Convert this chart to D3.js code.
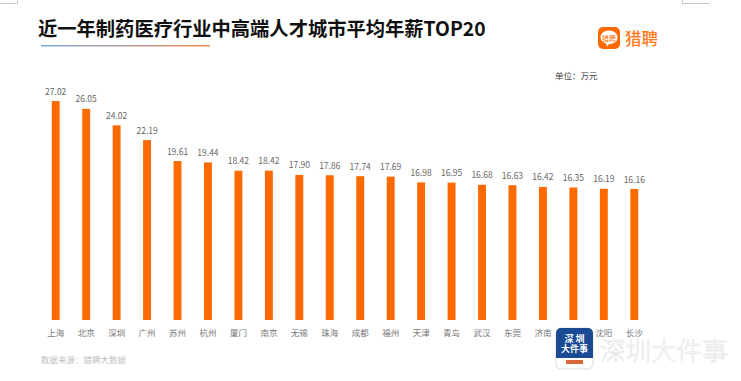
<!DOCTYPE html>
<html>
<head>
<meta charset="utf-8">
<script src="https://cdn.jsdelivr.net/npm/d3@7"></script>
<style>
  html, body { margin: 0; padding: 0; background: #fff; }
  text { font-family: "Noto Sans CJK SC", "Noto Sans", sans-serif; }
</style>
</head>
<body>
<div id="chart"></div>
<script>
// values (wan yuan); the label under the logo is hidden in the source
const cities = ["上海", "北京", "深圳", "广州", "苏州", "杭州", "厦门", "南京", "无锡", "珠海",
  "成都", "福州", "天津", "青岛", "武汉", "东莞", "济南", "合肥", "沈阳", "长沙"];
const salaries = [27.02, 26.05, 24.02, 22.19, 19.61, 19.44, 18.42, 18.42, 17.90, 17.86,
  17.74, 17.69, 16.98, 16.95, 16.68, 16.63, 16.42, 16.35, 16.19, 16.16];
const salaryLabels = ["27.02", "26.05", "24.02", "22.19", "19.61", "19.44", "18.42", "18.42", "17.90", "17.86",
  "17.74", "17.69", "16.98", "16.95", "16.68", "16.63", "16.42", "16.35", "16.19", "16.16"];

const width = 741, height = 381;
const orange = "#ff6a00";

const svg = d3.select("#chart").append("svg")
  .attr("width", width)
  .attr("height", height)
  .style("display", "block");

// page corner marks of the screenshot
svg.append("path").attr("d", "M0.5,3.5H17.5V0").attr("fill", "none").attr("stroke", "#c8c8c8");
svg.append("path").attr("d", "M682.5,0V3.5H710").attr("fill", "none").attr("stroke", "#c8c8c8");

// title and underline
svg.append("text")
  .attr("x", 38).attr("y", 36)
  .attr("font-size", 19.3).attr("font-weight", 700).attr("fill", "#111")
  .text("近一年制药医疗行业中高端人才城市平均年薪TOP20");

const grad = svg.append("defs").append("linearGradient").attr("id", "rule");
grad.append("stop").attr("offset", "0%").attr("stop-color", "#7aa9e0");
grad.append("stop").attr("offset", "100%").attr("stop-color", "#f58a4f");
svg.append("rect")
  .attr("x", 41).attr("y", 45).attr("width", 169).attr("height", 1.5)
  .attr("fill", "url(#rule)");

// liepin logo
const logo = svg.append("g").attr("transform", "translate(598,27)");
logo.append("rect").attr("width", 22).attr("height", 22).attr("rx", 5).attr("fill", orange);
logo.append("path")
  .attr("d", "M11,3.5C16,3.5 19.5,6.5 19.5,10.5C19.5,14.5 16,17 11,17L9,19.5L8,16.5C4.5,15.5 2.5,13.5 2.5,10.5C2.5,6.5 6,3.5 11,3.5Z")
  .attr("fill", "#fff");
logo.append("text")
  .attr("x", 11).attr("y", 13.5).attr("text-anchor", "middle")
  .attr("font-size", 7).attr("fill", orange).text("猎聘");
svg.append("text")
  .attr("x", 625).attr("y", 45)
  .attr("font-size", 16.5).attr("font-weight", 500).attr("fill", "#ff7a1a")
  .text("猎聘");

svg.append("text")
  .attr("x", 555).attr("y", 78.5)
  .attr("font-size", 8.5).attr("fill", "#444")
  .text("单位：万元");

// scales
const x = d3.scaleBand()
  .domain(cities)
  .range([40.5, 649.5])
  .paddingInner(0.74)
  .paddingOuter(0.37);
const y = d3.scaleLinear()
  .domain([0, 27.02])
  .range([320, 101]);

svg.selectAll(".bar")
  .data(cities)
  .enter()
  .append("rect")
    .attr("class", "bar")
    .attr("x", d => x(d))
    .attr("y", (d, i) => y(salaries[i]))
    .attr("width", x.bandwidth())
    .attr("height", (d, i) => y(0) - y(salaries[i]))
    .attr("fill", orange);

svg.selectAll(".value")
  .data(cities)
  .enter()
  .append("text")
    .attr("class", "value")
    .attr("x", d => x(d) + x.bandwidth() / 2)
    .attr("y", (d, i) => y(salaries[i]) - 6.5)
    .attr("text-anchor", "middle")
    .attr("font-size", 8.5)
    .attr("fill", "#666")
    .text((d, i) => salaryLabels[i]);

const axis = svg.append("g")
  .attr("transform", "translate(0,320)")
  .call(d3.axisBottom(x).tickSize(0).tickPadding(10));
axis.select(".domain").remove();
axis.selectAll("text")
  .attr("font-size", 8.5)
  .attr("fill", "#777")
  .style("font-family", '"Noto Sans CJK SC", sans-serif');

svg.append("text")
  .attr("x", 41).attr("y", 363)
  .attr("font-size", 8.5).attr("fill", "#c0c0c0")
  .text("数据来源：猎聘大数据");

// news watermark over the bottom right
const mark = svg.append("g").attr("transform", "translate(556,328)");
mark.append("rect").attr("width", 37).attr("height", 41).attr("rx", 5)
  .attr("fill", "#fff").attr("stroke", "#ddd");
mark.append("path").attr("d", "M0,5a5,5 0 0 1 5,-5H32a5,5 0 0 1 5,5V30H0Z").attr("fill", "#1a4a94");
mark.append("text").attr("x", 19.5).attr("y", 13.5).attr("text-anchor", "middle")
  .attr("font-size", 9).attr("font-weight", 700).attr("letter-spacing", 2).attr("fill", "#fff").text("深圳");
mark.append("text").attr("x", 18.5).attr("y", 24).attr("text-anchor", "middle")
  .attr("font-size", 9).attr("font-weight", 700).attr("fill", "#fff").text("大件事");
mark.append("rect").attr("x", 10).attr("y", 32).attr("width", 17).attr("height", 4).attr("fill", "#d9653a");

svg.append("text")
  .attr("x", 600).attr("y", 360)
  .attr("font-size", 25.5).attr("font-weight", 300)
  .attr("fill", "#fff").attr("stroke", "#dcdcdc").attr("stroke-width", 0.5)
  .text("深圳大件事");
</script>
</body>
</html>
